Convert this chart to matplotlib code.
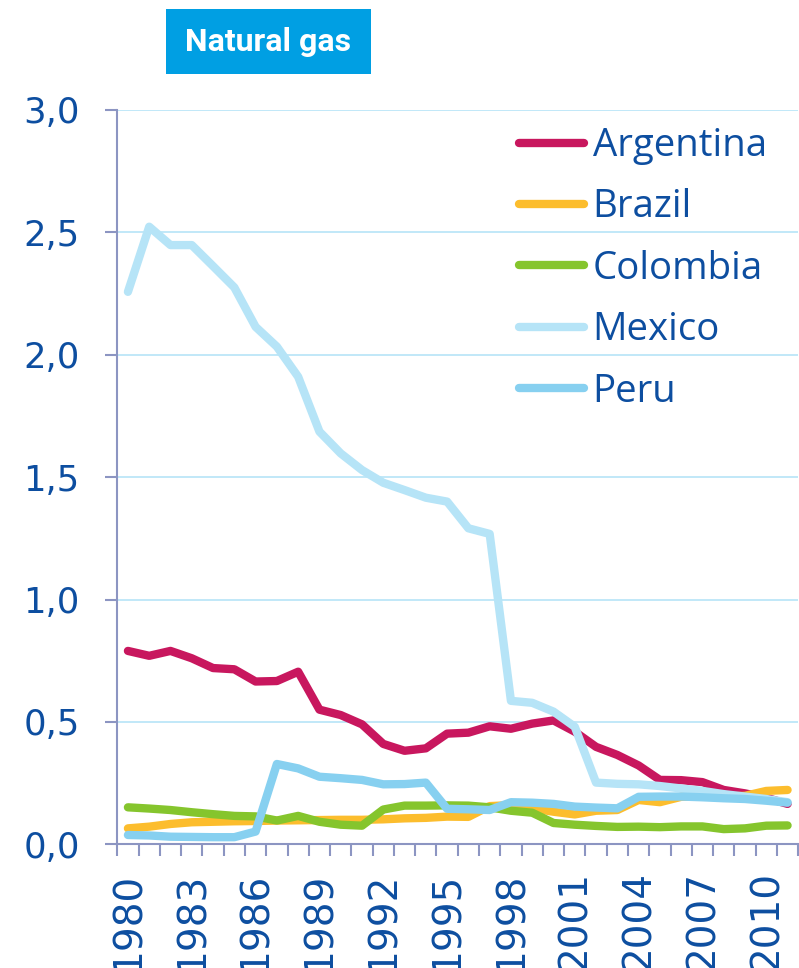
import matplotlib
matplotlib.use("Agg")
import matplotlib.pyplot as plt
from matplotlib.patches import Rectangle


YEARS = [1980, 1981, 1982, 1983, 1984, 1985, 1986, 1987, 1988, 1989,
         1990, 1991, 1992, 1993, 1994, 1995, 1996, 1997, 1998, 1999,
         2000, 2001, 2002, 2003, 2004, 2005, 2006, 2007, 2008, 2009,
         2010, 2011]

argentina = [0.79, 0.77, 0.79, 0.76, 0.72, 0.715, 0.665, 0.667, 0.705, 0.55,
             0.528, 0.49, 0.41, 0.382, 0.392, 0.452, 0.456, 0.482, 0.472, 0.493,
             0.506, 0.46, 0.398, 0.365, 0.322, 0.263, 0.262, 0.254, 0.222, 0.208,
             0.19, 0.165]
brazil = [0.065, 0.072, 0.083, 0.09, 0.092, 0.094, 0.095, 0.097, 0.098, 0.099,
          0.1, 0.1, 0.102, 0.106, 0.108, 0.113, 0.112, 0.156, 0.16, 0.147,
          0.133, 0.122, 0.137, 0.14, 0.181, 0.172, 0.194, 0.196, 0.195, 0.198,
          0.218, 0.222]
colombia = [0.151, 0.146, 0.14, 0.131, 0.123, 0.116, 0.114, 0.097, 0.116, 0.092,
            0.08, 0.076, 0.142, 0.158, 0.158, 0.159, 0.158, 0.151, 0.137, 0.129,
            0.087, 0.08, 0.075, 0.071, 0.072, 0.07, 0.073, 0.073, 0.062, 0.065,
            0.076, 0.077]
mexico = [2.257, 2.523, 2.448, 2.448, 2.362, 2.275, 2.114, 2.033, 1.91, 1.686,
          1.597, 1.529, 1.477, 1.447, 1.416, 1.4, 1.291, 1.268, 0.586, 0.578,
          0.542, 0.48, 0.252, 0.247, 0.245, 0.238, 0.228, 0.218, 0.205, 0.195,
          0.185, 0.172]
peru = [0.038, 0.036, 0.031, 0.03, 0.029, 0.029, 0.052, 0.328, 0.31, 0.276,
        0.27, 0.263, 0.245, 0.246, 0.252, 0.145, 0.143, 0.14, 0.172, 0.17,
        0.165, 0.154, 0.15, 0.147, 0.194, 0.195, 0.195, 0.192, 0.188, 0.185,
        0.178, 0.17]

SERIES = ["Argentina", "Brazil", "Colombia", "Mexico", "Peru"]
COLORS = {
    "Argentina": "#c8175e",
    "Brazil": "#fcbd2d",
    "Colombia": "#85c52d",
    "Mexico": "#b6e4f7",
    "Peru": "#87d0f0",
}
Y_TICKS = [0.0, 0.5, 1.0, 1.5, 2.0, 2.5, 3.0]

AXIS_COLOR = "#8c95c2"
GRID_COLOR = "#bce6f8"
TEXT_COLOR = "#0d4ea0"
TITLE_BG = "#009fe3"

fig = plt.figure(figsize=(7.99, 9.68), dpi=100)
ax = fig.add_axes([0.1468, 0.1278, 0.8522, 0.7586])

values = {"Argentina": argentina, "Brazil": brazil, "Colombia": colombia,
          "Mexico": mexico, "Peru": peru}
x = list(range(len(YEARS)))
for name in SERIES:
    ax.plot(x, values[name], color=COLORS[name], lw=6, label=name,
            solid_capstyle="round", solid_joinstyle="round", zorder=3)

ax.set_xlim(-0.5, len(YEARS) - 0.5)
ax.set_ylim(0, 3.0)

# y axis: comma decimals, gridlines
ax.set_yticks(Y_TICKS)
ax.set_yticklabels([f"{v:.1f}".replace(".", ",") for v in Y_TICKS],
                   fontsize=25.5, color=TEXT_COLOR, family="DejaVu Sans")
ax.tick_params(axis="y", length=8.5, width=1.5, color=AXIS_COLOR, pad=18.5)
ax.yaxis.grid(True, color=GRID_COLOR, lw=1.3, zorder=0)
ax.set_axisbelow(True)

# x axis: tick marks between categories, labels every third year
ax.set_xticks([i - 0.5 for i in range(len(YEARS) + 1)])
ax.set_xticklabels([])
ax.tick_params(axis="x", which="major", length=8.5, width=1.5, color=AXIS_COLOR)
label_pos = x[::3]
ax.set_xticks(label_pos, minor=True)
ax.set_xticklabels([str(YEARS[i]) for i in label_pos], minor=True, rotation=90,
                   fontsize=28, color=TEXT_COLOR, family="DejaVu Sans", va="top")
ax.tick_params(axis="x", which="minor", length=0, pad=19.5)

for side in ["top", "right"]:
    ax.spines[side].set_visible(False)
for side in ["left", "bottom"]:
    ax.spines[side].set_color(AXIS_COLOR)
    ax.spines[side].set_linewidth(1.5)

leg = ax.legend(loc="upper left", bbox_to_anchor=(519 / 799, 1 - 127 / 968),
                bbox_transform=fig.transFigure, frameon=False,
                handlelength=1.7, handletextpad=0.22,
                labelspacing=0.61, borderpad=0, borderaxespad=0,
                prop={"family": ["Open Sans", "DejaVu Sans"], "size": 27.6})
for text in leg.get_texts():
    text.set_color(TEXT_COLOR)
for line in leg.get_lines():
    line.set_linewidth(6)
    line.set_solid_capstyle("round")

# title banner
fig.patches.append(Rectangle((166 / 799, 1 - 74 / 968), 205 / 799, 65 / 968,
                             transform=fig.transFigure, facecolor=TITLE_BG,
                             edgecolor="none"))
fig.text(268 / 799, 1 - 42 / 968, "Natural gas", color="white", fontsize=23,
         fontweight="bold", ha="center", va="center",
         family=["Liberation Sans Narrow", "Roboto", "DejaVu Sans"])

fig.savefig("out.png", dpi=100)
